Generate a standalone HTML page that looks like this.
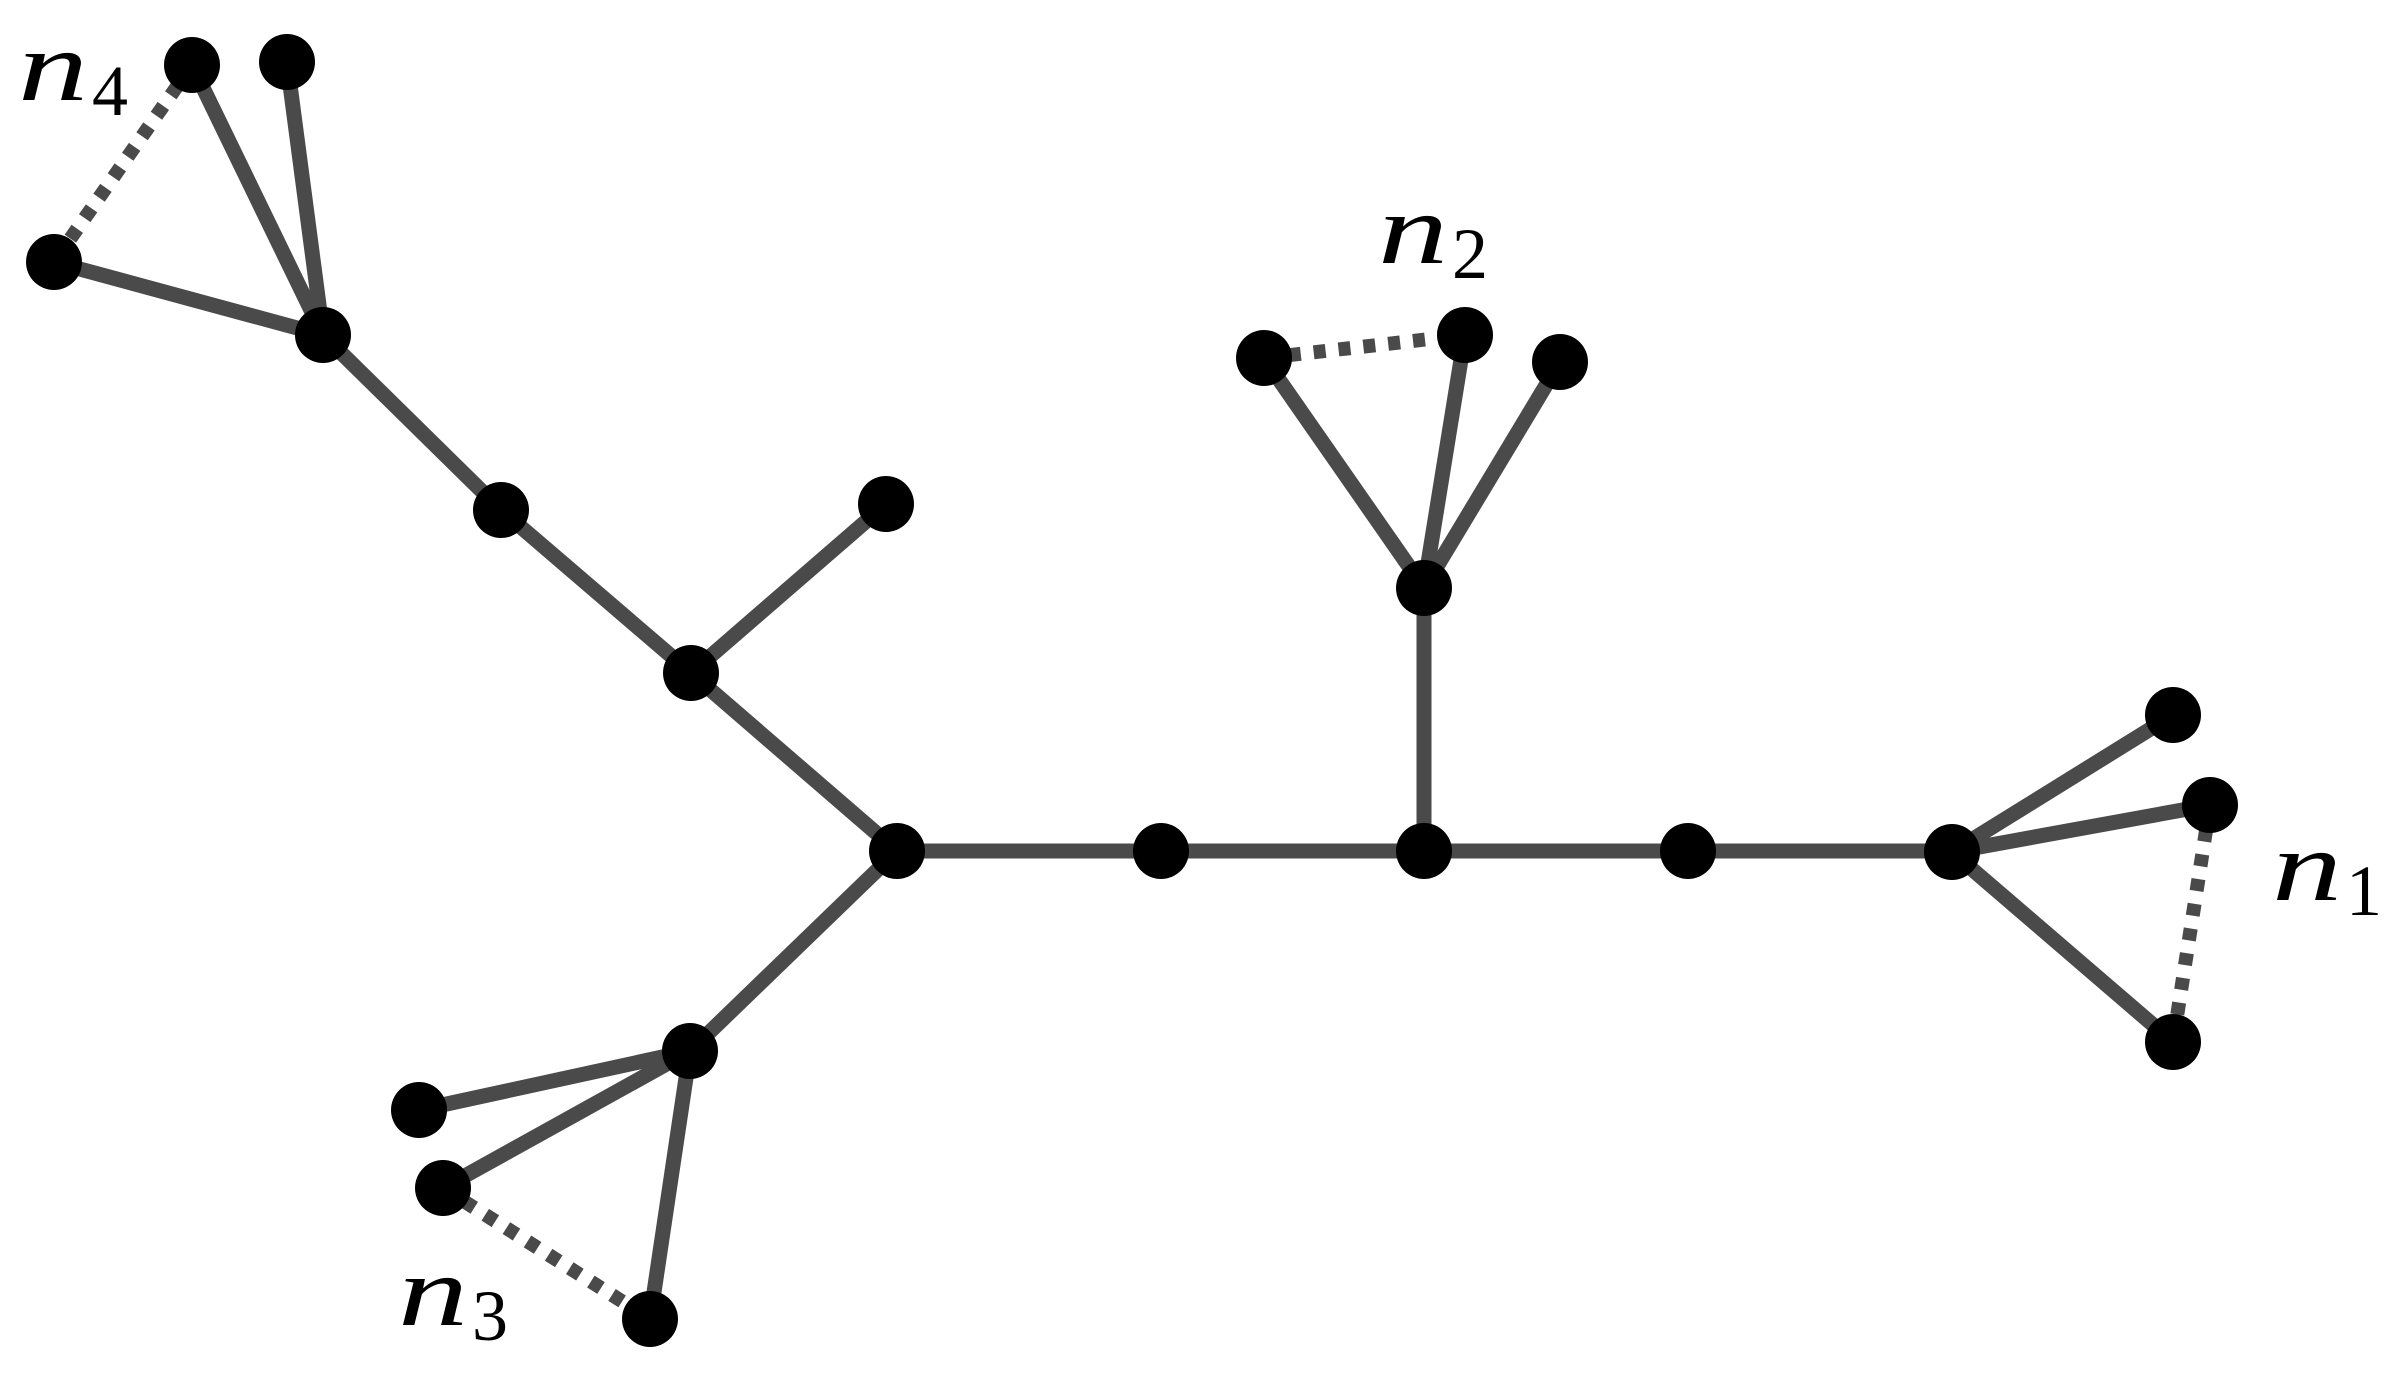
<!DOCTYPE html>
<html><head><style>html,body{margin:0;padding:0;background:#fff}</style></head>
<body>
<svg width="2388" height="1374" viewBox="0 0 2388 1374" xmlns="http://www.w3.org/2000/svg">
<g stroke="#4a4a4a" stroke-width="15" fill="none">
<line x1="192" y1="65" x2="323" y2="335"/>
<line x1="287" y1="62" x2="323" y2="335"/>
<line x1="54" y1="262" x2="323" y2="335"/>
<line x1="323" y1="335" x2="501" y2="510"/>
<line x1="501" y1="510" x2="691" y2="673"/>
<line x1="886" y1="504" x2="691" y2="673"/>
<line x1="691" y1="673" x2="897" y2="851"/>
<line x1="897" y1="851" x2="1952" y2="851"/>
<line x1="1952" y1="852" x2="2173" y2="715"/>
<line x1="1952" y1="852" x2="2210" y2="805"/>
<line x1="1952" y1="852" x2="2173" y2="1042"/>
<line x1="1424" y1="851" x2="1424" y2="588"/>
<line x1="1424" y1="588" x2="1264" y2="358"/>
<line x1="1424" y1="588" x2="1465" y2="335"/>
<line x1="1424" y1="588" x2="1560" y2="362"/>
<line x1="897" y1="851" x2="690" y2="1051"/>
<line x1="690" y1="1051" x2="419" y2="1110"/>
<line x1="690" y1="1051" x2="443" y2="1188"/>
<line x1="690" y1="1051" x2="650" y2="1319"/>
</g>
<g stroke="#4a4a4a" stroke-width="14" fill="none" stroke-dasharray="12 13">
<line x1="192" y1="65" x2="54" y2="262"/>
<line x1="2210" y1="805" x2="2173" y2="1042"/>
<line x1="1264" y1="358" x2="1465" y2="335"/>
<line x1="443" y1="1188" x2="650" y2="1319"/>
</g>
<g fill="#000">
<circle cx="192" cy="65" r="28"/><circle cx="287" cy="62" r="28"/><circle cx="54" cy="262" r="28"/>
<circle cx="323" cy="335" r="28"/><circle cx="501" cy="510" r="28"/><circle cx="886" cy="504" r="28"/>
<circle cx="691" cy="673" r="28"/><circle cx="897" cy="851" r="28"/><circle cx="1161" cy="851" r="28"/>
<circle cx="1424" cy="851" r="28"/><circle cx="1688" cy="851" r="28"/><circle cx="1952" cy="852" r="28"/>
<circle cx="2173" cy="715" r="28"/><circle cx="2210" cy="805" r="28"/><circle cx="2173" cy="1042" r="28"/>
<circle cx="1424" cy="588" r="28"/><circle cx="1264" cy="358" r="28"/><circle cx="1465" cy="335" r="28"/>
<circle cx="1560" cy="362" r="28"/><circle cx="690" cy="1051" r="28"/><circle cx="419" cy="1110" r="28"/>
<circle cx="443" cy="1188" r="28"/><circle cx="650" cy="1319" r="28"/>
</g>
<g font-family="Liberation Serif, serif" fill="#000">
<text x="18" y="100" font-size="100" font-style="italic" textLength="70" lengthAdjust="spacingAndGlyphs">n</text><text x="92" y="115" font-size="72">4</text>
<text x="2272" y="900" font-size="100" font-style="italic" textLength="70" lengthAdjust="spacingAndGlyphs">n</text><text x="2346" y="915" font-size="72">1</text>
<text x="1378" y="263" font-size="100" font-style="italic" textLength="70" lengthAdjust="spacingAndGlyphs">n</text><text x="1452" y="278" font-size="72">2</text>
<text x="398" y="1325" font-size="100" font-style="italic" textLength="70" lengthAdjust="spacingAndGlyphs">n</text><text x="472" y="1340" font-size="72">3</text>
</g>
</svg>
</body></html>
